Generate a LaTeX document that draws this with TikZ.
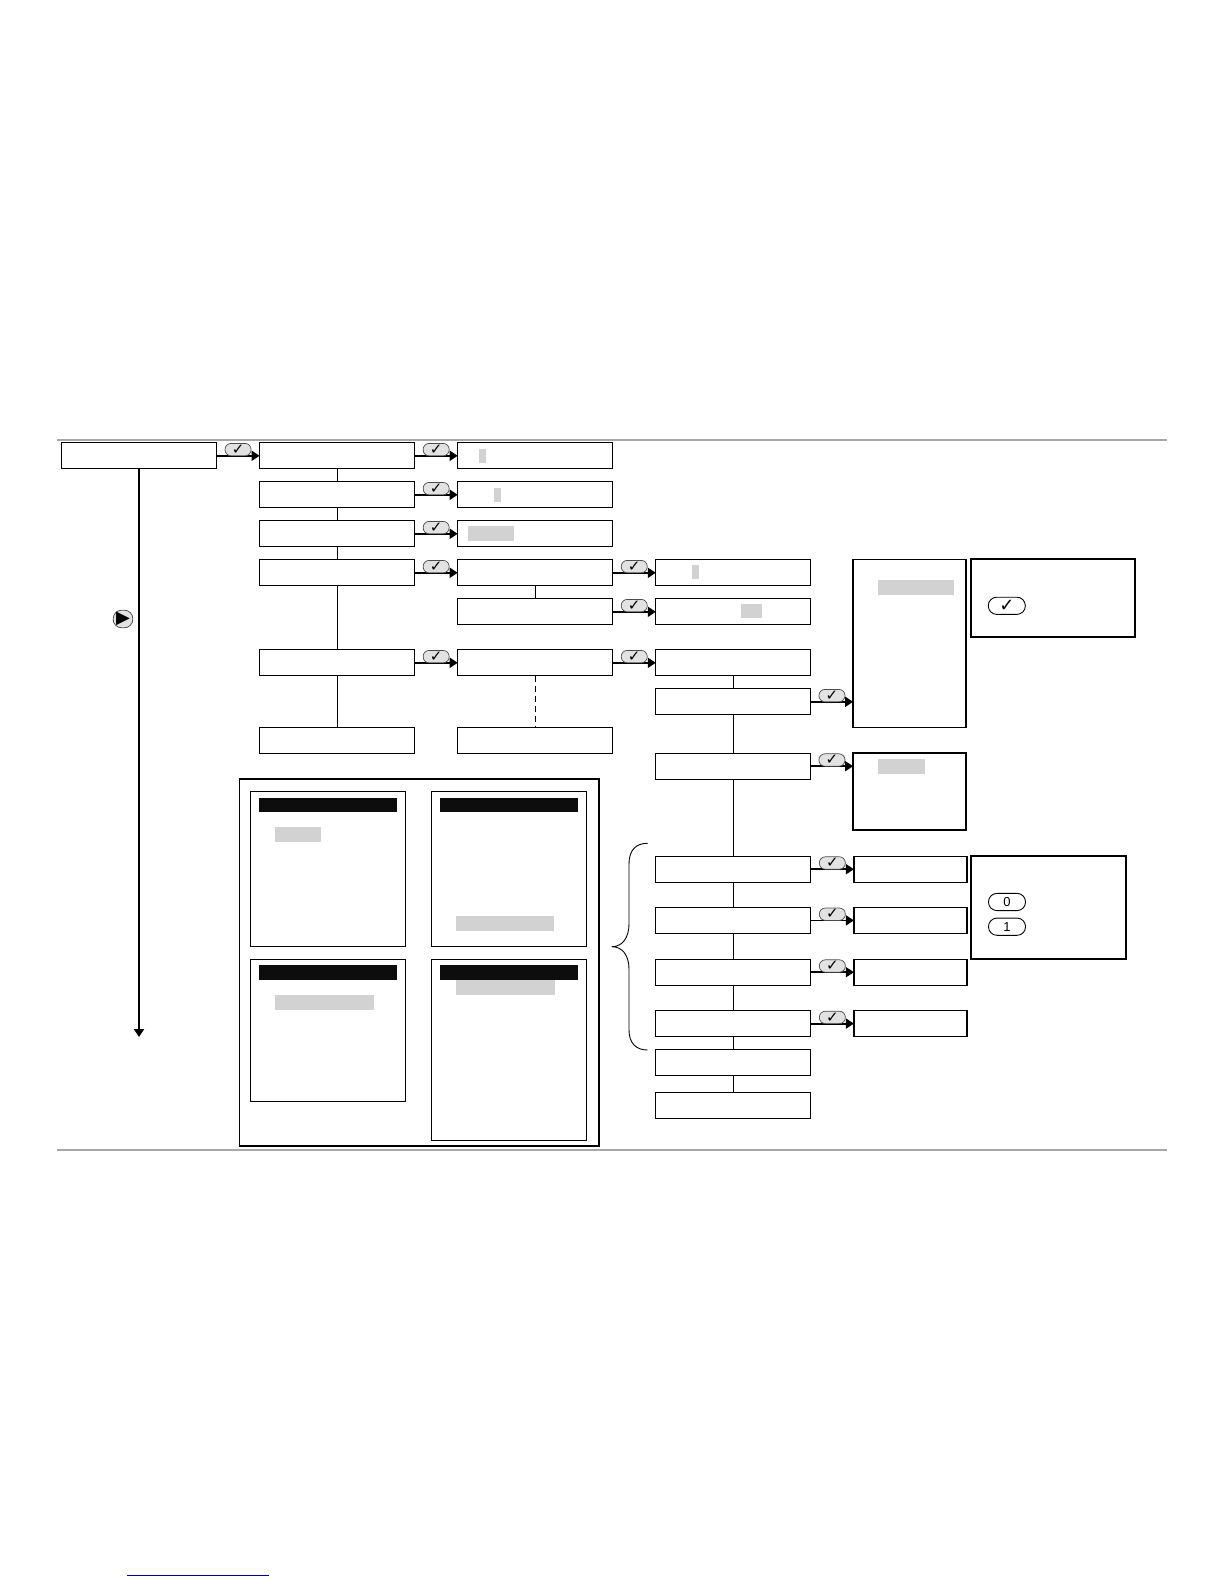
\documentclass[tikz,border=0pt]{standalone}
\usepackage{fontspec}
\setmainfont{Liberation Sans}
\newfontfamily\symfont{DejaVu Sans}
\usepackage{xcolor}
\usetikzlibrary{positioning,arrows.meta}

\definecolor{hilitegray}{HTML}{D2D2D2}
\definecolor{rulegray}{HTML}{A8A8A8}
\definecolor{keygray}{HTML}{E2E2E2}
\definecolor{linkblue}{HTML}{000099}

\begin{document}
\begin{tikzpicture}[
    x=.5pt, y=-.5pt,
    node distance=6.5pt and 21.55pt,
    box/.style={
        draw,
        rectangle,
        line width=.65pt,
        inner sep=0pt,
        outer sep=0pt,
        minimum width=77.5pt,
        minimum height=13pt
    },
    valbox/.style={box, minimum width=56.5pt},
    panel/.style={box, line width=.8pt, minimum width=56.5pt},
    notebox/.style={box, line width=1.1pt},
    inset/.style={box, line width=.6pt, minimum width=77.7pt},
    hilite/.style={fill=hilitegray, inner sep=0pt, outer sep=0pt, minimum height=7.4pt},
    titlebar/.style={fill=black!95, inner sep=0pt, outer sep=0pt, minimum width=69pt, minimum height=7.2pt},
    okkey/.style={
        draw=black!70,
        fill=keygray,
        line width=.35pt,
        rounded corners=3pt,
        inner sep=0pt,
        outer sep=0pt,
        minimum width=13pt,
        minimum height=6.2pt,
        font=\symfont\fontsize{7.5}{7.5}\selectfont
    },
    bigkey/.style={
        draw,
        fill=white,
        line width=.45pt,
        rounded corners=4.2pt,
        inner sep=0pt,
        minimum width=18.5pt,
        minimum height=8.6pt,
        font=\fontsize{6.5}{6.5}\selectfont
    },
    arrow/.style={-{Triangle[length=4pt,width=5pt]}, line width=.9pt},
    link/.style={line width=.5pt}
]
\useasboundingbox (0,0) rectangle (1224,1584);

% rules, page link
\coordinate (topl) at (57,440);
\coordinate (topr) at (1167,440);
\coordinate (botl) at (57,1150);
\coordinate (botr) at (1167,1150);
\coordinate (underl) at (127,1575.3);
\coordinate (underr) at (269,1575.3);
\draw[rulegray, line width=1.1pt] (topl) -- (topr);
\draw[rulegray, line width=1.1pt] (botl) -- (botr);
\draw[linkblue, line width=.6pt] (underl) -- (underr);

% first column
\node[box] (menu) at (139,455.8) {};

% second column
\node[box, right=of menu] (opta) {};
\node[box, below=of opta] (optb) {};
\node[box, below=of optb] (optc) {};
\node[box, below=of optc] (optd) {};
\node[box, below=32pt of optd] (opte) {};
\node[box, below=26pt of opte] (optf) {};

% third column
\node[box, right=of opta] (vala) {};
\node[box, right=of optb] (valb) {};
\node[box, right=of optc] (valc) {};
\node[box, right=of optd] (vald) {};
\node[box, below=of vald] (vale) {};
\node[box, right=of opte] (valf) {};
\node[box, right=of optf] (valg) {};

% fourth column
\node[box, right=of vald] (subd) {};
\node[box, right=of vale] (sube) {};
\node[box, right=of valf] (subf) {};
\node[box, below=of subf] (subg) {};
\node[box, below=19.2pt of subg] (subh) {};
\node[box, below=38.5pt of subh] (subi) {};
\node[box, below=12.6pt of subi] (subj) {};
\node[box, below=12.9pt of subj] (subk) {};
\node[box, below=12.7pt of subk] (subl) {};
\node[box, below=of subl] (subm) {};
\node[box, below=8.5pt of subm] (subn) {};

% right hand values and panels
\node[valbox, right=of subi] (resi) {};
\node[valbox, right=of subj] (resj) {};
\node[valbox, right=of subk] (resk) {};
\node[valbox, right=of subl] (resl) {};
\node[panel, minimum height=84pt] (listg) at (909.6,643.3) {};
\node[panel, minimum height=38.7pt] (listh) at (909.6,791.4) {};
\node[notebox, minimum width=82.3pt, minimum height=39.2pt] (noteok) at (1053,597.9) {};
\node[notebox, minimum width=77.8pt, minimum height=51.6pt] (notebit) at (1048.4,907.4) {};

% keys in the notes
\node[bigkey] (okbig) at (1006.8,605.8) {\symfont\fontsize{9}{9}\selectfont ✓};
\node[bigkey] (zero) at (1007,902) {0};
\node[bigkey] (one) at (1007,926.7) {1};

% table of settings
\node[box, line width=.8pt, minimum width=179.7pt, minimum height=183.5pt] (settings) at (419,962.5) {};
\node[inset, minimum height=77.5pt] (seta) at (328,869.2) {};
\node[inset, minimum height=77.5pt] (setb) at (509,869.2) {};
\node[inset, minimum height=71pt] (setc) at (328,1030.3) {};
\node[inset, minimum height=90.5pt] (setd) at (509,1049.8) {};
\node[titlebar] (bara) at (328,805) {};
\node[titlebar] (barb) at (509,805) {};
\node[titlebar] (barc) at (328,972.5) {};
\node[titlebar] (bard) at (509,972.5) {};

% selected entries
\foreach \n/\cx/\cy/\w in {a/482.5/456/3.6, b/497.6/495/3.6, c/491/533.5/23.1,
    d/695.4/572/3.6, e/751.4/611/10.5, f/916/587.5/38, g/901.5/766.5/23.5,
    h/298/834.5/23, i/505/923.5/49, j/324.5/1002.5/49.5, k/505.5/987.5/49.5}
    \node[hilite, minimum width=\w pt] (sel\n) at (\cx,\cy) {};

% menu key and its line
\coordinate (mainend) at (139,1037);
\draw[arrow, line width=1.1pt] (menu) -- (mainend);
\node[draw=black!70, fill=keygray, line width=.4pt, rounded corners=4.2pt, inner sep=0pt,
    minimum width=9.8pt, minimum height=8.8pt] (nextkey) at (123,619) {\symfont\fontsize{9}{9}\selectfont ▶};

% down the columns
\foreach \a/\b in {opta/optb, optb/optc, optc/optd, optd/opte, opte/optf,
    vald/vale, subf/subg, subg/subh, subh/subi, subi/subj, subj/subk,
    subk/subl, subl/subm, subm/subn}
    \draw[link] (\a) -- (\b);
\draw[link, dash pattern=on 3pt off 2pt] (valf) -- (valg);

% across, with the key on the line
\foreach \a/\b in {menu/opta, opta/vala, optb/valb, optc/valc, optd/vald,
    opte/valf, vald/subd, vale/sube, valf/subf, subi/resi, subj/resj,
    subk/resk, subl/resl}
    \draw[arrow] (\a) -- node[okkey, midway, above=0pt] (key\a) {✓} (\b);
\draw[arrow] (subg.east) -- node[okkey, midway, above=0pt] (keysubg) {✓} (subg.east -| listg.west);
\draw[arrow] (subh.east) -- node[okkey, midway, above=0pt] (keysubh) {✓} (subh.east -| listh.west);

% brace
\draw[line width=.45pt, line join=round] (647.5,843.3) .. controls (636,843.3) and (629,850) .. (629,864)
    -- (629,924) .. controls (629,938) and (622,946.7) .. (612,946.7)
    .. controls (622,946.7) and (629,955) .. (629,969)
    -- (629,1030) .. controls (629,1043) and (636,1050) .. (647.5,1050);

\end{tikzpicture}
\end{document}
